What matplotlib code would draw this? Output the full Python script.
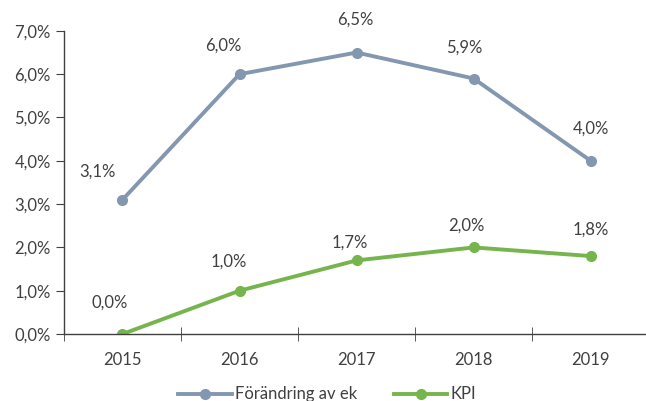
import matplotlib.pyplot as plt
from matplotlib.ticker import FuncFormatter

plt.rcParams['font.family'] = ['Lato', 'DejaVu Sans']

years = ['2015', '2016', '2017', '2018', '2019']
forandring = [3.1, 6.0, 6.5, 5.9, 4.0]
kpi = [0.0, 1.0, 1.7, 2.0, 1.8]

# label offsets in pixels (dx, dy) relative to each point
off_blue = [(-25, 28), (-16, 29), (-1, 33), (-9, 31), (0, 32)]
off_green = [(-13, 31), (-11, 29), (-7, 18), (-7, 22), (0, 26)]

blue = '#8497B0'
green = '#76B54D'
txt = '#404040'

fig = plt.figure(figsize=(6.46, 4.01), dpi=100)
ax = fig.add_axes([0.099, 0.167, 0.906, 0.756])

x = list(range(len(years)))
ax.plot(x, forandring, color=blue, lw=2.8, marker='o', ms=7, label='Förändring av ek')
ax.plot(x, kpi, color=green, lw=2.8, marker='o', ms=7, label='KPI')

def fmt(v):
    return f'{v:.1f}%'.replace('.', ',')

for xi, v, (dx, dy) in zip(x, forandring, off_blue):
    ax.annotate(fmt(v), (xi, v), xytext=(dx, dy), textcoords='offset pixels',
                ha='center', va='center', fontsize=12, color=txt)
for xi, v, (dx, dy) in zip(x, kpi, off_green):
    ax.annotate(fmt(v), (xi, v), xytext=(dx, dy), textcoords='offset pixels',
                ha='center', va='center', fontsize=12, color=txt)

ax.set_xlim(-0.5, len(years) - 0.5)
ax.set_ylim(0, 7)
ax.set_yticks(range(0, 8))
ax.yaxis.set_major_formatter(FuncFormatter(lambda v, p: fmt(v)))
ax.set_xticks(x)
ax.set_xticklabels(years)
ax.set_xticks([i - 0.5 for i in range(len(years) + 1)], minor=True)
ax.tick_params(axis='x', which='major', length=0, pad=13, labelsize=12, labelcolor=txt)
ax.tick_params(axis='x', which='minor', length=10, direction='inout', color=txt)
ax.tick_params(axis='y', length=6, direction='out', labelsize=12, labelcolor=txt, color=txt)

for s in ['top', 'right']:
    ax.spines[s].set_visible(False)
for s in ['left', 'bottom']:
    ax.spines[s].set_color(txt)
    ax.spines[s].set_linewidth(1)

ax.legend(loc='lower center', bbox_to_anchor=(0.45, -0.275), ncol=2, frameon=False,
          fontsize=12, handlelength=3.2, columnspacing=2.2, handletextpad=0.2,
          labelcolor=txt)

fig.savefig('out.png', dpi=100)
